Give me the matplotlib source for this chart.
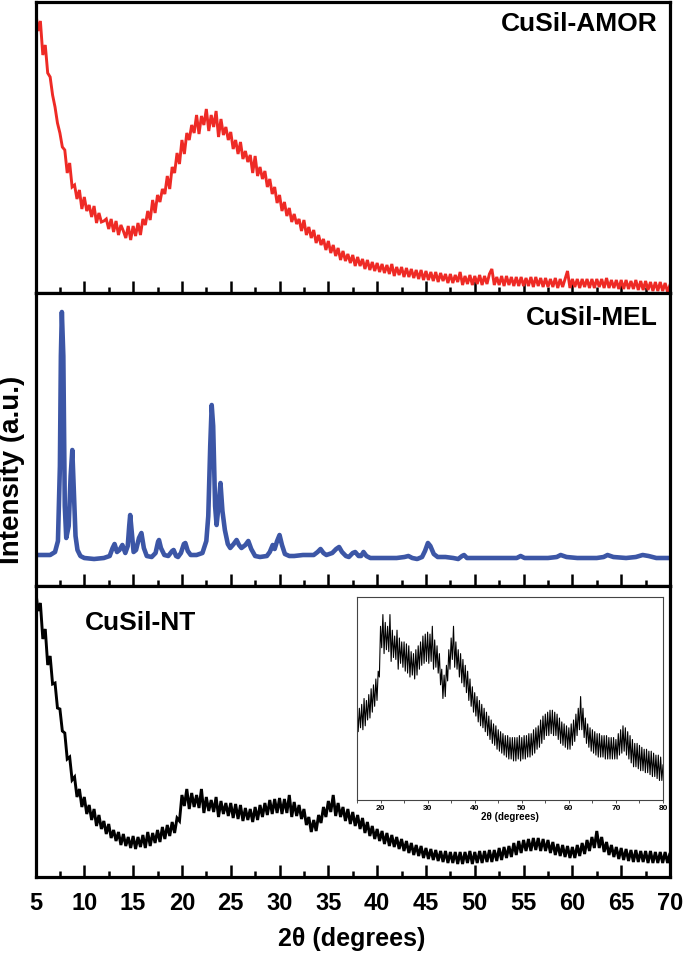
import matplotlib
matplotlib.use("Agg")
import matplotlib.pyplot as plt
from matplotlib.ticker import MultipleLocator
import numpy as np

# ---------------- data ----------------
theta_start = 5.0
theta_step = 0.25

# CuSil-AMOR (5 - 70 deg, step 0.25)
amor_intensity = [
    284, 262, 272, 238, 248, 220, 216, 198, 186, 170, 160, 146, 143, 120, 130, 106, 108, 94, 103, 84,
    96, 82, 88, 76, 87, 70, 80, 71, 72, 74, 64, 74, 61, 72, 58, 68, 62, 55, 67, 53,
    67, 57, 70, 58, 74, 68, 82, 73, 93, 80, 98, 91, 104, 99, 117, 104, 126, 120, 140, 129,
    153, 139, 160, 153, 168, 160, 178, 159, 177, 168, 184, 162, 178, 166, 182, 156, 174, 158, 166, 153,
    161, 144, 153, 139, 151, 134, 142, 131, 138, 120, 137, 117, 126, 114, 122, 106, 114, 99, 106, 90,
    98, 82, 91, 77, 85, 71, 79, 69, 74, 62, 73, 58, 66, 55, 63, 50, 58, 48, 54, 43,
    52, 40, 48, 37, 45, 33, 42, 32, 39, 30, 38, 27, 36, 27, 34, 24, 33, 23, 31, 22,
    30, 21, 29, 20, 28, 19, 29, 17, 26, 18, 26, 16, 25, 16, 24, 15, 23, 14, 23, 13,
    22, 13, 21, 12, 21, 11, 20, 12, 19, 10, 19, 10, 18, 11, 21, 8, 17, 9, 18, 8,
    17, 9, 18, 8, 17, 9, 19, 24, 8, 16, 8, 17, 7, 17, 8, 16, 7, 16, 7, 16,
    7, 15, 7, 16, 6, 16, 7, 15, 6, 15, 6, 14, 6, 15, 5, 14, 6, 14, 22, 5,
    14, 6, 14, 5, 14, 6, 14, 5, 14, 5, 14, 6, 14, 5, 15, 5, 13, 5, 13, 4,
    13, 4, 13, 4, 12, 4, 13, 3, 12, 3, 12, 3, 11, 2, 11, 2, 11, 2, 10, 1,
    8,
]

# CuSil-NT (5 - 80 deg, step 0.25)
nt_intensity = [
    289, 266, 274, 238, 248, 212, 221, 193, 194, 169, 168, 146, 144, 118, 120, 97, 100, 80, 88, 70,
    80, 63, 72, 57, 68, 51, 62, 48, 56, 43, 53, 39, 47, 36, 45, 32, 43, 31, 40, 29,
    41, 28, 40, 30, 42, 29, 45, 31, 44, 34, 47, 35, 50, 38, 52, 41, 55, 44, 59, 56,
    82, 71, 88, 68, 84, 70, 82, 69, 88, 64, 80, 66, 77, 65, 80, 60, 76, 63, 74, 61,
    74, 59, 73, 58, 72, 56, 69, 57, 68, 55, 70, 57, 72, 60, 74, 62, 77, 63, 78, 64,
    79, 63, 78, 64, 82, 60, 75, 61, 72, 58, 68, 52, 60, 45, 57, 46, 62, 54, 70, 60,
    76, 65, 82, 61, 74, 60, 70, 56, 68, 53, 65, 51, 62, 48, 59, 44, 55, 41, 51, 38,
    48, 36, 46, 33, 44, 31, 42, 30, 40, 28, 38, 26, 36, 24, 34, 22, 32, 21, 31, 19,
    29, 18, 28, 17, 27, 16, 26, 15, 26, 14, 25, 14, 25, 13, 25, 13, 25, 14, 26, 13,
    25, 14, 26, 14, 26, 15, 27, 15, 27, 16, 29, 17, 30, 19, 31, 20, 34, 22, 36, 24,
    37, 26, 38, 26, 39, 27, 39, 26, 38, 26, 37, 24, 35, 22, 33, 21, 32, 20, 31, 19,
    30, 19, 32, 21, 34, 23, 37, 26, 40, 29, 46, 29, 40, 25, 35, 22, 32, 20, 30, 18,
    29, 17, 28, 16, 27, 15, 27, 15, 26, 15, 26, 14, 26, 14, 25, 14, 25, 14, 25, 14,
    24, 14, 27, 16, 29, 17, 31, 18, 30, 16, 28, 14, 26, 12, 24, 10, 22, 10, 22, 9,
    21, 8, 20, 8, 19, 7, 19, 7, 18, 6, 18, 5, 17, 5, 16, 4, 16, 3, 15, 3,
    11,
]

# CuSil-MEL (smooth pattern, read point by point)
mel_theta = [
    5.0, 6.5, 7.0, 7.3, 7.5, 7.6, 7.7, 7.85, 8.0, 8.15, 8.4, 8.6, 8.77, 8.95, 9.1, 9.3, 9.6, 10.0,
    11.0, 12.0, 12.6, 12.9, 13.1, 13.35, 13.6, 13.9, 14.2, 14.45, 14.6, 14.7, 14.85, 15.05, 15.3,
    15.6, 15.85, 16.1, 16.4, 16.9, 17.3, 17.55, 17.65, 17.85, 18.2, 18.6, 19.0, 19.15, 19.4, 19.6,
    19.9, 20.2, 20.35, 20.6, 20.9, 21.5, 22.1, 22.5, 22.7, 22.9, 23.05, 23.2, 23.4, 23.55, 23.75,
    23.95, 24.15, 24.4, 24.7, 24.95, 25.3, 25.6, 25.85, 26.1, 26.5, 26.8, 27.1, 27.5, 28.0, 28.7,
    29.0, 29.3, 29.5, 29.75, 30.0, 30.25, 30.55, 31.0, 31.5, 32.4, 33.5, 33.9, 34.2, 34.5, 34.8,
    35.4, 35.8, 36.1, 36.4, 36.8, 37.1, 37.5, 37.75, 38.1, 38.35, 38.6, 38.9, 39.3, 42.0, 42.8,
    43.2, 43.6, 44.1, 44.6, 44.9, 45.2, 45.45, 45.8, 46.2, 47.0, 47.8, 48.3, 48.7, 48.9, 49.2,
    50.0, 53.0, 54.3, 54.7, 55.1, 57.5, 58.4, 58.8, 59.4, 60.5, 62.5, 63.2, 63.6, 64.2, 65.5,
    66.5, 67.2, 67.8, 68.6, 70.0,
]
mel_intensity = [
    31, 31, 34, 45, 120, 230, 274, 230, 80, 48, 60, 110, 136, 90, 50, 36, 30, 28,
    27, 28, 30, 38, 42, 34, 36, 41, 33, 40, 60, 71, 55, 34, 36,
    48, 53, 38, 30, 29, 33, 44, 46, 38, 31, 30, 35, 36, 30, 29,
    33, 42, 43, 35, 31, 31, 33, 45, 70, 140, 181, 160, 80, 61, 80,
    103, 75, 56, 42, 38, 42, 46, 41, 38, 41, 45, 37, 30, 29, 30,
    34, 41, 37, 45, 51, 41, 32, 30, 30, 31, 31, 34, 37, 33, 31,
    33, 37, 39, 34, 30, 29, 33, 34, 30, 30, 34, 30, 28, 28, 29,
    30, 28, 27, 29, 35, 43, 40, 32, 29, 29, 28, 27, 30, 31, 28,
    28, 28, 28, 30, 28, 28, 29, 31, 29, 28, 28, 29, 31, 29, 28,
    29, 31, 30, 28, 28,
]

panel_labels = ["CuSil-AMOR", "CuSil-MEL", "CuSil-NT"]
x_ticks = [5, 10, 15, 20, 25, 30, 35, 40, 45, 50, 55, 60, 65, 70]
x_tick_labels = ["5", "10", "15", "20", "25", "30", "35", "40", "45", "50", "55", "60", "65", "70"]
inset_ticks = [20, 30, 40, 50, 60, 70, 80]
inset_tick_labels = ["20", "30", "40", "50", "60", "70", "80"]

amor_theta = theta_start + theta_step * np.arange(len(amor_intensity))
nt_theta = theta_start + theta_step * np.arange(len(nt_intensity))

# ---------------- style ----------------
plt.rcParams["font.family"] = ["Liberation Sans", "DejaVu Sans"]
plt.rcParams["font.weight"] = "bold"

W_PX, H_PX = 685, 956
fig = plt.figure(figsize=(W_PX / 100, H_PX / 100), dpi=100)

left_px, right_px = 35.5, 670.0


def axes_px(top, bottom, l=left_px, r=right_px):
    return fig.add_axes([l / W_PX, 1 - bottom / H_PX, (r - l) / W_PX, (bottom - top) / H_PX])


ax1 = axes_px(2, 293)
ax2 = axes_px(293, 586)
ax3 = axes_px(586, 877)

for ax in (ax1, ax2, ax3):
    ax.set_xlim(5, 70)
    ax.set_xticks(x_ticks)
    ax.xaxis.set_minor_locator(MultipleLocator(2.5))
    ax.set_yticks([])
    ax.tick_params(axis="x", which="major", direction="in", length=8.6, width=1.8,
                   top=False, bottom=True, color="black")
    ax.tick_params(axis="x", which="minor", direction="in", length=4.3, width=1.8,
                   top=False, bottom=True, color="black")
    for s in ax.spines.values():
        s.set_linewidth(2.3)
        s.set_color("black")

ax1.set_xticklabels([])
ax2.set_xticklabels([])
ax3.set_xticklabels(x_tick_labels, fontsize=17, fontweight="bold")
ax3.tick_params(axis="x", which="major", pad=11)

ax1.plot(amor_theta, amor_intensity, color="#ee2a25", lw=2.1, solid_joinstyle="miter")
ax1.set_ylim(0, 291)

ax2.plot(mel_theta, mel_intensity, color="#3c56a6", lw=3.3,
         solid_joinstyle="round", solid_capstyle="round")
ax2.set_ylim(0, 293)

ax3.plot(nt_theta, nt_intensity, color="black", lw=2.1, solid_joinstyle="miter")
ax3.set_ylim(0, 291)

ax1.text(0.981, 0.924, panel_labels[0], transform=ax1.transAxes, ha="right", va="center",
         fontsize=19, fontweight="bold")
ax2.text(0.981, 0.915, panel_labels[1], transform=ax2.transAxes, ha="right", va="center",
         fontsize=19, fontweight="bold")
ax3.text(0.078, 0.873, panel_labels[2], transform=ax3.transAxes, ha="left", va="center",
         fontsize=19, fontweight="bold")

# inset
axin = axes_px(597, 800, l=357, r=663)
axin.plot(nt_theta, nt_intensity, color="black", lw=0.8)
axin.set_xlim(15, 80)
axin.set_ylim(-7, 97)
axin.set_yticks([])
axin.set_xticks(inset_ticks)
axin.set_xticklabels(inset_tick_labels, fontsize=6, fontweight="bold")
axin.xaxis.set_minor_locator(MultipleLocator(5))
axin.tick_params(axis="x", which="both", direction="out", length=2.2, width=0.6, pad=1.5,
                 color="#333333")
for s in axin.spines.values():
    s.set_linewidth(0.8)
    s.set_color("#444444")
axin.set_xlabel("2θ (degrees)", fontsize=7, fontweight="bold", labelpad=0)

fig.text(12 / W_PX, 1 - 470 / H_PX, "Intensity (a.u.)", rotation=90, ha="center", va="center",
         fontsize=20, fontweight="bold")
fig.text(352 / W_PX, 1 - 939 / H_PX, "2θ (degrees)", ha="center", va="center",
         fontsize=18, fontweight="bold")

fig.savefig("out.png", dpi=100)
